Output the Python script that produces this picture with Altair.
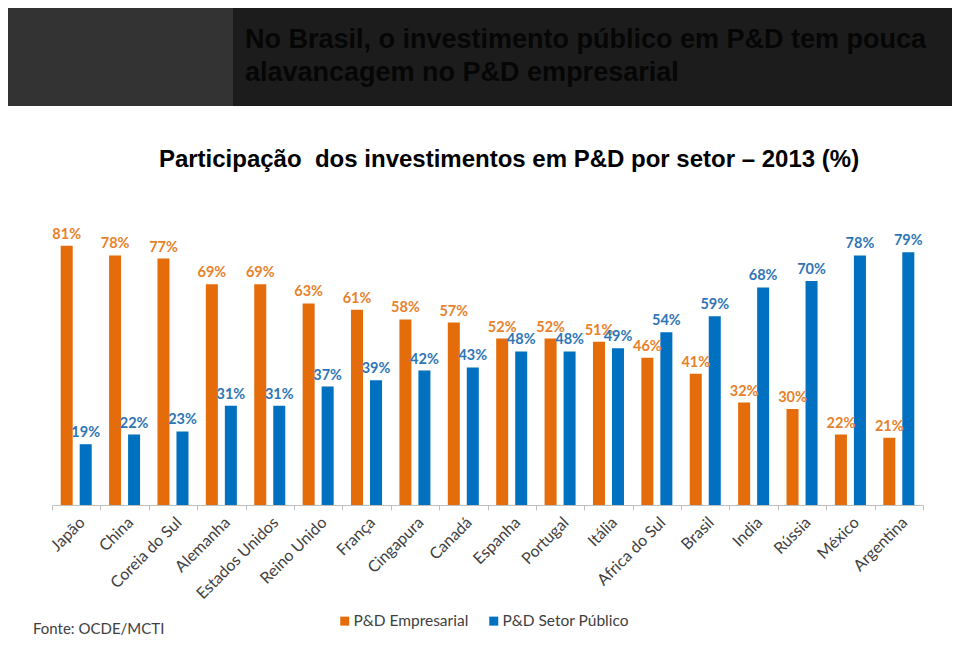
import altair as alt
import pandas as pd

countries = ["Japão", "China", "Coreia do Sul", "Alemanha", "Estados Unidos", "Reino Unido",
             "França", "Cingapura", "Canadá", "Espanha", "Portugal", "Itália", "Africa do Sul",
             "Brasil", "India", "Rússia", "México", "Argentina"]
empresarial = [81, 78, 77, 69, 69, 63, 61, 58, 57, 52, 52, 51, 46, 41, 32, 30, 22, 21]
publico = [19, 22, 23, 31, 31, 37, 39, 42, 43, 48, 48, 49, 54, 59, 68, 70, 78, 79]
series = ["P&D Empresarial", "P&D Setor Público"]

title_lines = ["No Brasil, o investimento público em P&D tem pouca",
               "alavancagem no P&D empresarial"]
subtitle = "Participação\u00a0 dos investimentos em P&D por setor – 2013 (%)"
source = "Fonte: OCDE/MCTI"

rows = []
for c, e, p in zip(countries, empresarial, publico):
    rows.append({"pais": c, "setor": series[0], "valor": e})
    rows.append({"pais": c, "setor": series[1], "valor": p})
df = pd.DataFrame(rows)
df["rotulo"] = df["valor"].astype(str) + "%"

ORANGE = "#E46C0A"
BLUE = "#0070C0"

x_enc = alt.X("pais:N", sort=countries,
              scale=alt.Scale(paddingInner=0, paddingOuter=0),
              axis=alt.Axis(title=None, labelAngle=-45, tickBand="extent",
                            labelFont="Lato", labelFontSize=16, labelColor="#404040",
                            labelPadding=4, tickSize=5, tickColor="#BFBFBF",
                            domainColor="#BFBFBF", grid=False))
xo_enc = alt.XOffset("setor:N", sort=series,
                     scale=alt.Scale(paddingInner=0.368, paddingOuter=0.457))
y_enc = alt.Y("valor:Q", scale=alt.Scale(domain=[0, 100]), axis=None)

base = alt.Chart(df)

bars = base.mark_bar().encode(
    x=x_enc, xOffset=xo_enc, y=y_enc,
    color=alt.Color("setor:N", sort=series,
                    scale=alt.Scale(domain=series, range=[ORANGE, BLUE]),
                    legend=alt.Legend(title=None, orient="none", legendX=285, legendY=428,
                                      direction="horizontal", symbolType="square",
                                      symbolSize=81, symbolStrokeWidth=0,
                                      labelFont="Lato", labelFontSize=15.5,
                                      labelColor="#404040", columnPadding=17,
                                      labelOffset=1)),
)

labels = base.mark_text(dy=-7, baseline="alphabetic", font="Lato", fontSize=14.5,
                        fontWeight="bold").encode(
    x=x_enc, xOffset=xo_enc, y=y_enc,
    text="rotulo:N",
    color=alt.condition(alt.datum.setor == series[0], alt.value("#E8812A"), alt.value("#2E75B6")),
)

one = alt.Chart(pd.DataFrame({"k": [0]}))

rect_left = one.mark_rect(color="#333333").encode(
    x=alt.value(-44), x2=alt.value(181), y=alt.value(-177), y2=alt.value(-79))
rect_right = one.mark_rect(color="#1C1C1C").encode(
    x=alt.value(181), x2=alt.value(900), y=alt.value(-177), y2=alt.value(-79))

t1 = one.mark_text(align="left", baseline="middle", font="Liberation Sans", fontSize=27,
                   fontWeight="bold", color="#060606").encode(
    x=alt.value(193), y=alt.value(-145), text=alt.value(title_lines[0]))
t2 = one.mark_text(align="left", baseline="middle", font="Liberation Sans", fontSize=27,
                   fontWeight="bold", color="#060606").encode(
    x=alt.value(193), y=alt.value(-112), text=alt.value(title_lines[1]))
st = one.mark_text(align="center", baseline="middle", font="Liberation Sans", fontSize=24,
                   fontWeight="bold", color="#000000").encode(
    x=alt.value(457), y=alt.value(-25), text=alt.value(subtitle))
src = one.mark_text(align="left", baseline="middle", font="Lato", fontSize=15,
                    color="#404040").encode(
    x=alt.value(-19), y=alt.value(444), text=alt.value(source))

chart = alt.layer(rect_left, rect_right, t1, t2, st, bars, labels, src).properties(
    width=871, height=320,
    padding={"left": 44, "top": 177, "right": 29, "bottom": 132},
    autosize="none",
).configure(background="white").configure_view(stroke=None)

chart.save("out.html", embed_options={"renderer": "svg", "actions": False})
